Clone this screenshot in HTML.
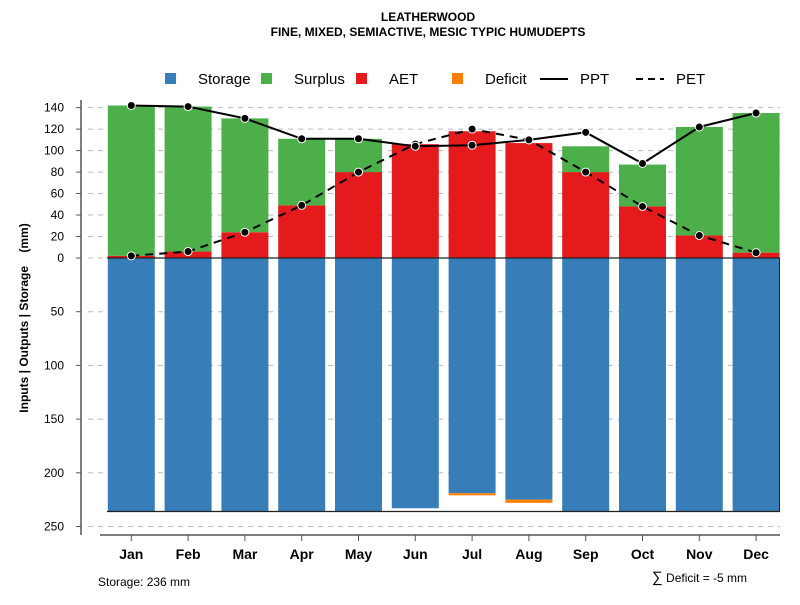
<!DOCTYPE html>
<html><head><meta charset="utf-8"><style>
body{margin:0;background:#fff;font-family:"Liberation Sans",Arial,sans-serif}
svg text{font-family:"Liberation Sans",Arial,sans-serif}
</style></head><body>
<svg id="c" width="800" height="600" xmlns="http://www.w3.org/2000/svg">
<text x="428" y="21" text-anchor="middle" font-size="12" font-weight="bold">LEATHERWOOD</text>
<text x="428" y="36" text-anchor="middle" font-size="12" font-weight="bold">FINE, MIXED, SEMIACTIVE, MESIC TYPIC HUMUDEPTS</text>
<g id="legend">
<rect x="165" y="73" width="11" height="11" fill="#377eb8"/><text x="198" y="84" font-size="15">Storage</text>
<rect x="261" y="73" width="11" height="11" fill="#4daf4a"/><text x="294" y="84" font-size="15">Surplus</text>
<rect x="356" y="73" width="11" height="11" fill="#e41a1c"/><text x="389" y="84" font-size="15">AET</text>
<rect x="452" y="73" width="11" height="11" fill="#ff7f00"/><text x="485" y="84" font-size="15">Deficit</text>
<line x1="540" y1="79" x2="568" y2="79" stroke="#000" stroke-width="2"/><text x="580" y="84" font-size="15">PPT</text>
<line x1="636" y1="79" x2="664" y2="79" stroke="#000" stroke-width="2" stroke-dasharray="7,5"/><text x="676" y="84" font-size="15">PET</text>
</g>
<text transform="translate(28,318) rotate(-90)" text-anchor="middle" font-size="12" font-weight="bold" style="white-space:pre">Inputs | Outputs | Storage    (mm)</text>
<g id="grid"></g><g id="bars"></g><g id="lines"></g><g id="axes"></g>
<text x="98" y="586" font-size="12">Storage: 236 mm</text>
<text x="652" y="582" font-size="12"><tspan font-size="15">∑</tspan> Deficit = -5 mm</text>
</svg>
<script>
const months=["Jan","Feb","Mar","Apr","May","Jun","Jul","Aug","Sep","Oct","Nov","Dec"];
const ppt=[142,141,130,111,111,104,105,110,117,88,122,135];
const pet=[2,6,24,49,80,106,120,110,80,48,21,5];
const aet=[2,6,24,49,80,106,118,107,80,48,21,5];
const surplus=[140,135,106,62,31,0,0,0,24,39,101,130];
const storage=[236,236,236,236,236,233,219,225,236,236,236,236];
const deficit=[0,0,0,0,0,0,2,3,0,0,0,0];
const topTicks=[0,20,40,60,80,100,120,140];
const botTicks=[50,100,150,200,250];
const NS="http://www.w3.org/2000/svg";
const y0=258,k=1.074;
const yUp=v=>y0-v*k, yDn=v=>y0+v*k;
const xC=i=>131.3+i*56.8, bw=47;
function mk(p,t,a){const e=document.createElementNS(NS,t);for(const n in a)e.setAttribute(n,a[n]);document.getElementById(p).appendChild(e);return e;}
topTicks.forEach(v=>{const g=mk('grid','line',{x1:88,x2:780,y1:yUp(v),y2:yUp(v),stroke:'#bbb','stroke-dasharray':'5,5'});
 const t=mk('axes','text',{x:64,y:yUp(v)+4,'text-anchor':'end','font-size':12});t.textContent=v;
 mk('axes','line',{x1:76,x2:81,y1:yUp(v),y2:yUp(v),stroke:'#555'});});
botTicks.forEach(v=>{const g=mk('grid','line',{x1:88,x2:780,y1:yDn(v),y2:yDn(v),stroke:'#bbb','stroke-dasharray':'5,5'});
 const t=mk('axes','text',{x:64,y:yDn(v)+4,'text-anchor':'end','font-size':12});t.textContent=v;
 mk('axes','line',{x1:76,x2:81,y1:yDn(v),y2:yDn(v),stroke:'#555'});});
mk('axes','line',{x1:81,x2:81,y1:100,y2:535,stroke:'#555','stroke-width':1.5});
mk('axes','line',{x1:100,x2:780,y1:535,y2:535,stroke:'#555','stroke-width':1.5});
months.forEach((m,i)=>{
 const x=xC(i)-bw/2;
 let r=mk('bars','rect',{x:x,y:y0,width:bw,height:storage[i]*k,fill:'#377eb8'});
 if(deficit[i]>0){r=mk('bars','rect',{x:x,y:yDn(storage[i]),width:bw,height:deficit[i]*k,fill:'#ff7f00'});}
 r=mk('bars','rect',{x:x,y:yUp(aet[i]),width:bw,height:aet[i]*k,fill:'#e41a1c'});
 if(surplus[i]>0){r=mk('bars','rect',{x:x,y:yUp(aet[i]+surplus[i]),width:bw,height:surplus[i]*k,fill:'#4daf4a'});}
 const t=mk('axes','text',{x:xC(i),y:559,'text-anchor':'middle','font-size':14,'font-weight':'bold'});t.textContent=m;
 mk('axes','line',{x1:xC(i),x2:xC(i),y1:535,y2:541,stroke:'#555'});
});
mk('bars','line',{x1:107,x2:780,y1:y0,y2:y0,stroke:'#222','stroke-width':1.2});
mk('bars','line',{x1:107,x2:780,y1:yDn(236),y2:yDn(236),stroke:'#222','stroke-width':1.2});
mk('bars','line',{x1:779.5,x2:779.5,y1:y0,y2:yDn(236),stroke:'#222','stroke-width':1});
function series(vals,dash,name){
 const p=mk('lines','polyline',{points:vals.map((v,i)=>xC(i)+','+yUp(v)).join(' '),fill:'none',stroke:'#000','stroke-width':2,'stroke-dasharray':dash});
 
 vals.forEach((v,i)=>{const c=mk('lines','circle',{cx:xC(i),cy:yUp(v),r:4,fill:'#000',stroke:'#fff','stroke-width':1});});
}
series(pet,'8,6','pet');
series(ppt,'none','ppt');
</script>
</body></html>
